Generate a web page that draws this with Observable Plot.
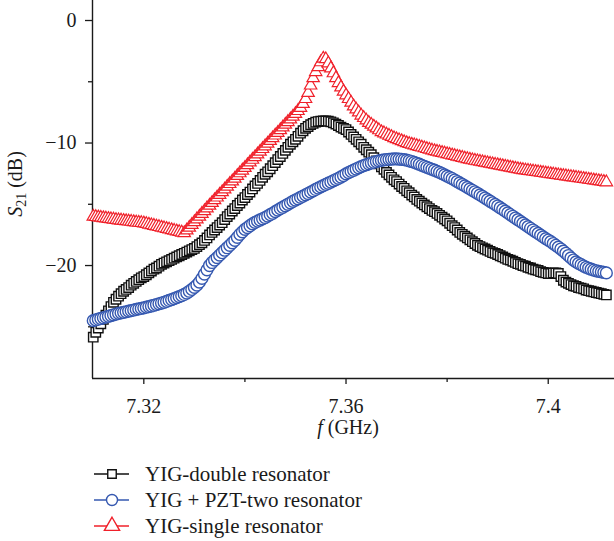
<!DOCTYPE html>
<html>
<head>
<meta charset="utf-8">
<script src="https://cdn.jsdelivr.net/npm/d3@7"></script>
<script src="https://cdn.jsdelivr.net/npm/@observablehq/plot@0.6"></script>
<style>
  body { margin: 0; background: white; }
  #chart svg { display: block; }
  #legend { display: block; }
</style>
</head>
<body>
<div id="chart"></div>
<script>
// Frequency sweep: start and step of the measured grid (GHz)
const fStart = 7.31;
const fStep = 0.0005;

const seriesNames = ["YIG-double resonator", "YIG + PZT-two resonator", "YIG-single resonator"];

// S21 (dB), one value per sweep point
const yigDouble = [
  -25.85, -25.45, -25.1, -24.75, -24.4, -24.05, -23.7, -23.35, -23.0, -22.75,
  -22.5, -22.3, -22.1, -21.95, -21.8, -21.6, -21.45, -21.3, -21.15, -21.0,
  -20.9, -20.75, -20.6, -20.45, -20.3, -20.2, -20.05, -19.9, -19.8, -19.7,
  -19.6, -19.5, -19.4, -19.3, -19.2, -19.1, -19.0, -18.9, -18.8, -18.7,
  -18.6, -18.45, -18.3, -18.15, -17.95, -17.75, -17.5, -17.3, -17.1, -16.9,
  -16.7, -16.5, -16.25, -16.0, -15.8, -15.55, -15.35, -15.1, -14.9, -14.65,
  -14.45, -14.2, -14.0, -13.75, -13.5, -13.3, -13.05, -12.8, -12.55, -12.35,
  -12.1, -11.85, -11.6, -11.35, -11.1, -10.85, -10.6, -10.35, -10.1, -9.9,
  -9.7, -9.45, -9.2, -9.0, -8.8, -8.65, -8.5, -8.4, -8.3, -8.25,
  -8.22, -8.2, -8.2, -8.22, -8.27, -8.35, -8.45, -8.57, -8.7, -8.8,
  -8.9, -9.1, -9.3, -9.5, -9.7, -9.9, -10.1, -10.35, -10.55, -10.75,
  -10.95, -11.2, -11.45, -11.7, -11.95, -12.15, -12.4, -12.6, -12.8, -13.0,
  -13.15, -13.35, -13.55, -13.7, -13.9, -14.05, -14.25, -14.4, -14.6, -14.75,
  -14.9, -15.05, -15.2, -15.35, -15.5, -15.6, -15.75, -15.9, -16.05, -16.2,
  -16.35, -16.55, -16.75, -16.9, -17.1, -17.3, -17.45, -17.6, -17.75, -17.9,
  -18.05, -18.2, -18.35, -18.45, -18.55, -18.65, -18.75, -18.85, -18.95, -19.0,
  -19.1, -19.2, -19.3, -19.4, -19.5, -19.55, -19.65, -19.75, -19.85, -19.9,
  -20.0, -20.05, -20.15, -20.2, -20.3, -20.35, -20.4, -20.5, -20.55, -20.6,
  -20.65, -20.65, -20.6, -20.6, -20.65, -20.9, -21.2, -21.35, -21.45, -21.55,
  -21.65, -21.7, -21.8, -21.85, -21.9, -22.0, -22.05, -22.1, -22.15, -22.2,
  -22.25, -22.3, -22.35, -22.4
];

const yigPzt = [
  -24.5, -24.44, -24.38, -24.32, -24.26, -24.2, -24.14, -24.08, -24.02, -23.96,
  -23.9, -23.86, -23.82, -23.77, -23.72, -23.68, -23.63, -23.58, -23.54, -23.5,
  -23.45, -23.4, -23.35, -23.3, -23.24, -23.18, -23.12, -23.06, -23.0, -22.93,
  -22.85, -22.78, -22.7, -22.62, -22.54, -22.46, -22.36, -22.24, -22.1, -21.95,
  -21.78, -21.6, -21.35, -21.05, -20.7, -20.35, -20.0, -19.75, -19.55, -19.35,
  -19.15, -18.95, -18.75, -18.55, -18.35, -18.15, -17.95, -17.7, -17.45, -17.25,
  -17.05, -16.9, -16.75, -16.6, -16.48, -16.38, -16.28, -16.18, -16.08, -15.97,
  -15.85, -15.73, -15.6, -15.48, -15.36, -15.24, -15.12, -15.0, -14.88, -14.76,
  -14.65, -14.55, -14.44, -14.34, -14.23, -14.12, -14.01, -13.9, -13.79, -13.68,
  -13.58, -13.48, -13.38, -13.28, -13.18, -13.08, -12.98, -12.88, -12.77, -12.66,
  -12.52, -12.42, -12.32, -12.22, -12.12, -12.02, -11.93, -11.85, -11.77, -11.7,
  -11.63, -11.57, -11.51, -11.46, -11.42, -11.38, -11.35, -11.33, -11.31, -11.3,
  -11.3, -11.31, -11.33, -11.36, -11.4, -11.45, -11.51, -11.58, -11.65, -11.73,
  -11.82, -11.9, -11.98, -12.06, -12.14, -12.22, -12.31, -12.4, -12.5, -12.6,
  -12.7, -12.8, -12.9, -13.02, -13.14, -13.26, -13.38, -13.5, -13.62, -13.74,
  -13.86, -13.98, -14.1, -14.23, -14.36, -14.49, -14.62, -14.75, -14.88, -15.01,
  -15.14, -15.28, -15.42, -15.56, -15.7, -15.84, -15.98, -16.12, -16.26, -16.4,
  -16.54, -16.68, -16.82, -16.96, -17.1, -17.24, -17.38, -17.52, -17.66, -17.8,
  -17.92, -18.05, -18.2, -18.35, -18.5, -18.65, -18.82, -19.0, -19.18, -19.38,
  -19.55, -19.7, -19.82, -19.93, -20.04, -20.14, -20.22, -20.3, -20.37, -20.43,
  -20.48, -20.52, -20.56, -20.6
];

const yigSingle = [
  -16.0, -16.03, -16.06, -16.09, -16.12, -16.15, -16.18, -16.21, -16.24, -16.27,
  -16.3, -16.32, -16.35, -16.37, -16.4, -16.42, -16.45, -16.48, -16.5, -16.52,
  -16.55, -16.6, -16.65, -16.7, -16.75, -16.8, -16.85, -16.9, -16.95, -17.0,
  -17.05, -17.1, -17.15, -17.2, -17.25, -17.3, -17.35, -17.12, -16.9, -16.67,
  -16.45, -16.22, -16.0, -15.77, -15.55, -15.32, -15.1, -14.88, -14.66, -14.44,
  -14.22, -14.0, -13.78, -13.56, -13.34, -13.12, -12.9, -12.68, -12.46, -12.24,
  -12.02, -11.8, -11.58, -11.36, -11.14, -10.92, -10.7, -10.48, -10.26, -10.04,
  -9.82, -9.6, -9.38, -9.16, -8.94, -8.72, -8.5, -8.28, -8.06, -7.84,
  -7.62, -7.38, -7.12, -6.8, -6.4, -5.9, -5.3, -4.7, -4.2, -3.8,
  -3.4, -3.1, -3.15, -3.5, -3.9, -4.3, -4.7, -5.1, -5.45, -5.8,
  -6.1, -6.4, -6.7, -7.0, -7.25, -7.5, -7.75, -7.95, -8.15, -8.35,
  -8.5, -8.65, -8.8, -8.95, -9.1, -9.2, -9.3, -9.4, -9.5, -9.6,
  -9.68, -9.76, -9.84, -9.92, -10.0, -10.06, -10.12, -10.18, -10.24, -10.3,
  -10.36, -10.42, -10.48, -10.54, -10.6, -10.65, -10.7, -10.75, -10.8, -10.85,
  -10.9, -10.95, -11.0, -11.05, -11.1, -11.15, -11.2, -11.25, -11.3, -11.35,
  -11.4, -11.44, -11.48, -11.52, -11.56, -11.6, -11.64, -11.68, -11.72, -11.76,
  -11.8, -11.84, -11.88, -11.92, -11.96, -12.0, -12.04, -12.08, -12.12, -12.16,
  -12.2, -12.23, -12.26, -12.29, -12.32, -12.35, -12.38, -12.41, -12.44, -12.47,
  -12.5, -12.53, -12.56, -12.59, -12.62, -12.65, -12.68, -12.71, -12.74, -12.77,
  -12.8, -12.83, -12.86, -12.89, -12.92, -12.95, -12.98, -13.01, -13.04, -13.07,
  -13.1, -13.13, -13.16, -13.2
];

const xMajorTicks = [7.32, 7.36, 7.4];
const xMinorTicks = [7.34, 7.38];
const yMajorTicks = [0, -10, -20];
const yMinorTicks = [-5, -15, -25];

const colors = ["#111111", "#3558b0", "#f0202a"];
const symbols = ["square", "circle", "triangle"];

const xDomain = [7.30985, 7.41311];
const yDomain = [-29.22, 1.633];

const toRows = (vals) => vals.map((s, i) => ({f: fStart + i * fStep, s}));
const rowsDouble = toRows(yigDouble);
const rowsPzt = toRows(yigPzt);
const rowsSingle = toRows(yigSingle);

const fmtX = d => String(+d.toFixed(2));
const fmtY = d => d < 0 ? "\u2212" + Math.abs(d) : String(d);

const chart = Plot.plot({
  width: 614,
  height: 450,
  marginLeft: 92,
  marginRight: 0,
  marginTop: 0,
  marginBottom: 72,
  x: {domain: xDomain},
  y: {domain: yDomain},
  style: {fontFamily: "'Liberation Serif', 'DejaVu Serif', serif", fontSize: "20px", color: "#1a1a1a", background: "white"},
  marks: [
    Plot.axisX({ticks: xMajorTicks, tickSize: 6, tickPadding: 14, tickFormat: fmtX, label: null, strokeWidth: 1.3}),
    Plot.axisX({ticks: xMinorTicks, tickSize: 4, tickFormat: () => "", label: null, strokeWidth: 1.3}),
    Plot.axisY({ticks: yMajorTicks, tickSize: 7, tickPadding: 9, tickFormat: fmtY, label: null, strokeWidth: 1.3}),
    Plot.axisY({ticks: yMinorTicks, tickSize: 4, tickFormat: () => "", label: null, strokeWidth: 1.3}),
    Plot.ruleX([xDomain[0]], {stroke: "#1a1a1a", strokeWidth: 1.4}),
    Plot.ruleY([yDomain[0]], {stroke: "#1a1a1a", strokeWidth: 1.4}),
    Plot.dot(rowsDouble, {x: "f", y: "s", symbol: symbols[0], r: 5.3, stroke: colors[0], fill: "white", strokeWidth: 1.4}),
    Plot.dot(rowsPzt, {x: "f", y: "s", symbol: symbols[1], r: 5.9, stroke: colors[1], fill: "white", strokeWidth: 1.4}),
    Plot.dot(rowsSingle, {x: "f", y: "s", symbol: symbols[2], r: 4.6, stroke: colors[2], fill: "white", strokeWidth: 1.2})
  ]
});

document.getElementById("chart").append(chart);

// Axis titles with italic / subscript parts
const svg = d3.select(chart);
const xt = svg.append("text")
  .attr("x", 348).attr("y", 434)
  .attr("text-anchor", "middle")
  .attr("fill", "#1a1a1a")
  .style("font-size", "20px");
xt.append("tspan").style("font-style", "italic").text("f");
xt.append("tspan").text(" (GHz)");

const yt = svg.append("text")
  .attr("transform", "translate(22,184) rotate(-90)")
  .attr("text-anchor", "middle")
  .attr("fill", "#1a1a1a")
  .style("font-size", "20px");
yt.append("tspan").style("font-style", "italic").text("S");
yt.append("tspan").attr("dy", 4).style("font-size", "14px").text("21");
yt.append("tspan").attr("dy", -4).text(" (dB)");

// Legend below the chart
const legend = d3.select("body").append("svg")
  .attr("id", "legend")
  .attr("width", 614).attr("height", 91)
  .style("font-family", "'Liberation Serif', 'DejaVu Serif', serif")
  .style("font-size", "21px");
const rowY = [24, 50, 76];
seriesNames.forEach((name, i) => {
  const g = legend.append("g").attr("transform", `translate(0,${rowY[i]})`);
  g.append("line").attr("x1", 94).attr("x2", 129).attr("y1", 0).attr("y2", 0)
    .attr("stroke", colors[i]).attr("stroke-width", 1.3);
  const sym = {square: d3.symbolSquare, circle: d3.symbolCircle, triangle: d3.symbolTriangle}[symbols[i]];
  const size = [72, 95, 100][i];
  g.append("path").attr("d", d3.symbol(sym, size)()).attr("transform", "translate(112,0)")
    .attr("fill", "white").attr("stroke", colors[i]).attr("stroke-width", 1.4);
  g.append("text").attr("x", 145).attr("y", 7).attr("fill", "#1a1a1a").text(name);
});
</script>
</body>
</html>
